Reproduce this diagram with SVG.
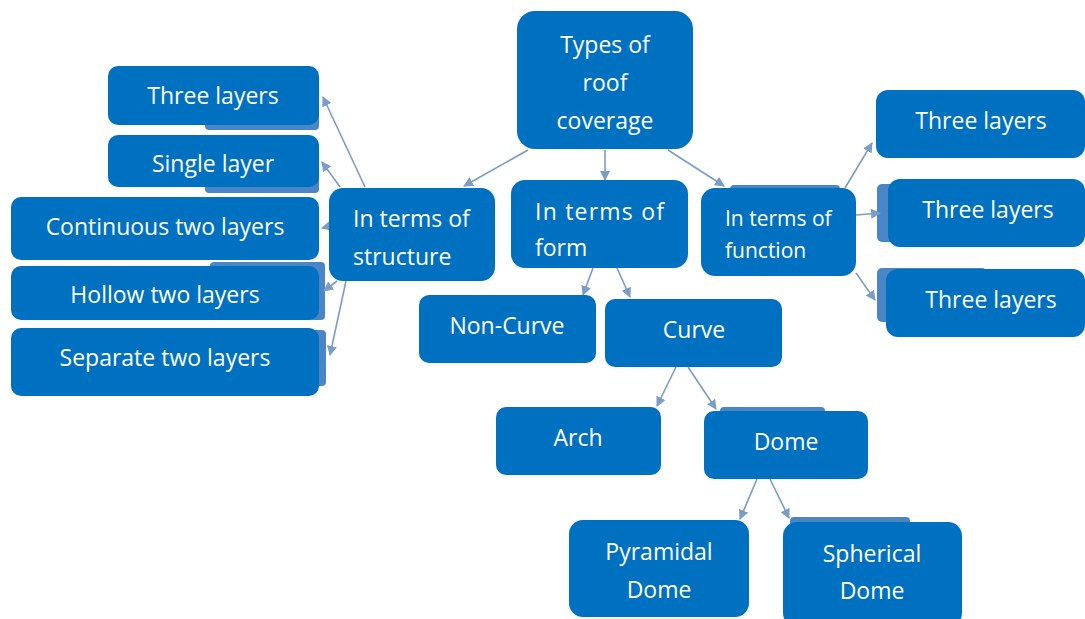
<svg xmlns="http://www.w3.org/2000/svg" width="1085" height="619" viewBox="0 0 1085 619">
<defs>
<marker id="ah" viewBox="0 0 10 10" refX="9" refY="5" markerWidth="10" markerHeight="10" markerUnits="userSpaceOnUse" orient="auto">
<path d="M0,0 L10,5 L0,10 z" fill="#7c9cc6"/>
</marker>
<style>
.b{fill:#0070c0;}
.g{fill:#4a86c6;}
.t{fill:#fff;font-family:"Open Sans","Liberation Sans",sans-serif;font-size:23px;text-anchor:middle;}
.tl{fill:#fff;font-family:"Open Sans","Liberation Sans",sans-serif;font-size:23px;}
.c{stroke:#7c9cc6;stroke-width:1.6;fill:none;marker-end:url(#ah);}
</style>
</defs>
<rect width="1085" height="619" fill="#fff"/>
<g id="ghosts">
<rect class="g" x="205" y="110" width="114" height="20" rx="4"/>
<rect class="g" x="205" y="175" width="114" height="18" rx="4"/>
<rect class="g" x="210" y="262" width="115" height="58" rx="4"/>
<rect class="g" x="300" y="330" width="26" height="56" rx="4"/>
<rect class="g" x="877" y="184" width="40" height="58" rx="5"/>
<rect class="g" x="877" y="268" width="110" height="54" rx="5"/>
<rect class="g" x="730" y="185" width="110" height="12" rx="4"/>
<rect class="g" x="790" y="517" width="120" height="12" rx="4"/>
<rect class="g" x="720" y="407" width="105" height="12" rx="4"/>
</g>
<g id="connectors">
<line class="c" x1="528" y1="150" x2="464" y2="186"/>
<line class="c" x1="605" y1="150" x2="605" y2="180"/>
<line class="c" x1="668" y1="150" x2="724" y2="186"/>
<line class="c" x1="365" y1="187" x2="323" y2="97"/>
<line class="c" x1="340" y1="187" x2="322" y2="162"/>
<line class="c" x1="330" y1="226" x2="322" y2="228"/>
<line class="c" x1="337" y1="281" x2="324" y2="291"/>
<line class="c" x1="346" y1="281" x2="330" y2="355"/>
<line class="c" x1="593" y1="268" x2="583" y2="295"/>
<line class="c" x1="617" y1="268" x2="630" y2="297"/>
<line class="c" x1="845" y1="188" x2="872" y2="143"/>
<line class="c" x1="856" y1="215" x2="880" y2="213"/>
<line class="c" x1="856" y1="273" x2="875" y2="300"/>
<line class="c" x1="676" y1="367" x2="657" y2="406"/>
<line class="c" x1="688" y1="367" x2="716" y2="409"/>
<line class="c" x1="757" y1="479" x2="740" y2="519"/>
<line class="c" x1="770" y1="479" x2="789" y2="518"/>
</g>
<g id="root"><rect class="b" x="517" y="11" width="176" height="138" rx="18"/>
<text class="t" x="605" y="53">Types of</text><text class="t" x="605" y="91">roof</text><text class="t" x="605" y="129">coverage</text></g>
<g id="l-three"><rect class="b" x="108" y="66" width="211" height="59" rx="10"/><text class="t" x="213" y="104">Three layers</text></g>
<g id="l-single"><rect class="b" x="108" y="135" width="211" height="52" rx="10"/><text class="t" x="213" y="172">Single layer</text></g>
<g id="l-cont"><rect class="b" x="11" y="197" width="308" height="63" rx="10"/><text class="t" x="165" y="235">Continuous two layers</text></g>
<g id="l-hollow"><rect class="b" x="11" y="266" width="308" height="54" rx="10"/><text class="t" x="165" y="303">Hollow two layers</text></g>
<g id="l-sep"><rect class="b" x="11" y="328" width="308" height="68" rx="10"/><text class="t" x="165" y="366">Separate two layers</text></g>
<g id="structure"><rect class="b" x="329" y="188" width="166" height="93" rx="14"/>
<text class="tl" x="353" y="227">In terms of</text><text class="tl" x="353" y="265">structure</text></g>
<g id="form"><rect class="b" x="511" y="180" width="177" height="88" rx="14"/>
<text class="tl" x="535" y="220" textLength="129" lengthAdjust="spacing">In terms of</text>
<svg x="511" y="180" width="177" height="79" overflow="hidden"><text class="tl" x="24" y="76">form</text></svg></g>
<g id="function"><rect class="b" x="701" y="188" width="155" height="88" rx="14"/>
<text class="tl" x="725" y="226" style="font-size:21px">In terms of</text><text class="tl" x="725" y="258" style="font-size:21px">function</text></g>
<g id="r-three1"><rect class="b" x="876" y="90" width="209" height="68" rx="12"/><text class="t" x="981" y="129">Three layers</text></g>
<g id="r-three2"><rect class="b" x="888" y="179" width="197" height="68" rx="12"/><text class="t" x="988" y="218">Three layers</text></g>
<g id="r-three3"><rect class="b" x="886" y="269" width="199" height="68" rx="12"/><text class="t" x="991" y="308">Three layers</text></g>
<g id="noncurve"><rect class="b" x="419" y="295" width="177" height="68" rx="10"/><text class="t" x="507" y="334">Non-Curve</text></g>
<g id="curve"><rect class="b" x="605" y="299" width="177" height="68" rx="10"/><text class="t" x="694" y="338">Curve</text></g>
<g id="arch"><rect class="b" x="496" y="407" width="165" height="68" rx="10"/><text class="t" x="578" y="446">Arch</text></g>
<g id="dome"><rect class="b" x="704" y="411" width="164" height="68" rx="10"/><text class="t" x="786" y="450">Dome</text></g>
<g id="pyramidal"><rect class="b" x="569" y="520" width="180" height="97" rx="14"/>
<text class="t" x="659" y="560">Pyramidal</text><text class="t" x="659" y="598">Dome</text></g>
<g id="spherical"><rect class="b" x="783" y="522" width="179" height="105" rx="14"/>
<text class="t" x="872" y="562">Spherical</text><text class="t" x="872" y="599">Dome</text></g>
</svg>
